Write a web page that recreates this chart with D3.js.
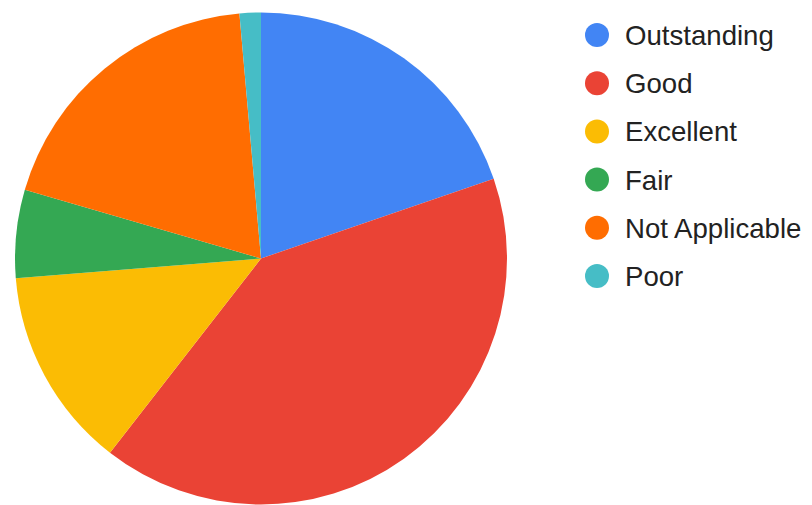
<!DOCTYPE html>
<html>
<head>
<meta charset="utf-8">
<script src="https://cdn.jsdelivr.net/npm/d3@7"></script>
<style>
	html, body { margin: 0; padding: 0; background: #fff; }
	svg { display: block; }
</style>
</head>
<body>
<svg id="chart"></svg>
<script>
// slice values (percent of responses), in drawing order from 12 o'clock clockwise
var categories = ["Outstanding", "Good", "Excellent", "Fair", "Not Applicable", "Poor"];
var shares = [19.75, 40.8, 13.2, 5.8, 19.1, 1.4];
var colours = ["#4285f4", "#ea4335", "#fbbc04", "#34a853", "#ff6d01", "#46bdc6"];

var width = 812, height = 505;
var svg = d3.select("#chart")
	.attr("width", width)
	.attr("height", height);

var cx = 261, cy = 258.5, radius = 246;

var data = categories.map(function(name, i) {
	return { name: name, value: shares[i] };
});

var colour = d3.scaleOrdinal()
	.domain(categories)
	.range(colours);

var pie = d3.pie()
	.sort(null)
	.value(function(d) { return d.value; });

var arc = d3.arc()
	.innerRadius(0)
	.outerRadius(radius);

var g = svg.append("g")
	.attr("transform", "translate(" + cx + "," + cy + ")");

g.selectAll("path")
	.data(pie(data))
	.enter()
	.append("path")
		.attr("d", arc)
		.style("fill", function(d) { return colour(d.data.name); });

// legend on the right, one row per category
var legendY = d3.scalePoint()
	.domain(categories)
	.range([35, 276]);

var legend = svg.append("g")
	.attr("class", "legend");

var rows = legend.selectAll("g")
	.data(categories)
	.enter()
	.append("g")
		.attr("transform", function(d) { return "translate(597," + legendY(d) + ")"; });

rows.append("circle")
	.attr("r", 12)
	.style("fill", function(d) { return colour(d); });

rows.append("text")
	.text(function(d) { return d; })
	.attr("x", 28)
	.attr("dy", "0.36em")
	.style("font-family", "Arial, 'Liberation Sans', sans-serif")
	.style("font-size", "27.6px")
	.style("fill", "#222");
</script>
</body>
</html>
